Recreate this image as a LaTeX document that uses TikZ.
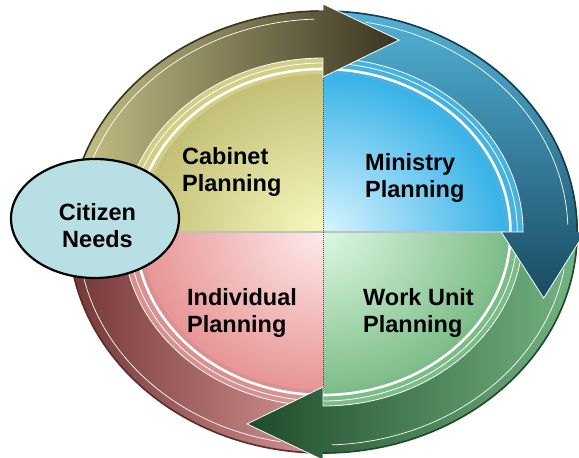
\documentclass[tikz,border=0pt]{standalone}
\usepackage{fontspec}
\setmainfont{Liberation Sans}
\usetikzlibrary{shapes.geometric}

\definecolor{yeL}{HTML}{C8C488}
\definecolor{yeM}{HTML}{807A4C}
\definecolor{yeD}{HTML}{3A3422}
\definecolor{yeBev}{HTML}{D2CE86}
\definecolor{yeIn}{HTML}{F8F8C0}
\definecolor{yeOut}{HTML}{C0BC72}
\definecolor{blL}{HTML}{52B2D6}
\definecolor{blM}{HTML}{2B7394}
\definecolor{blD}{HTML}{1A4A62}
\definecolor{blBev}{HTML}{45B2E0}
\definecolor{blIn}{HTML}{D8F4FF}
\definecolor{blOut}{HTML}{2EAEE6}
\definecolor{grL}{HTML}{74B482}
\definecolor{grD}{HTML}{1E4A2A}
\definecolor{grBev}{HTML}{7CBC88}
\definecolor{grIn}{HTML}{DDF8E2}
\definecolor{grOut}{HTML}{78BA84}
\definecolor{pkL}{HTML}{D49494}
\definecolor{pkD}{HTML}{733636}
\definecolor{pkBev}{HTML}{D89090}
\definecolor{pkIn}{HTML}{FFEAEA}
\definecolor{pkOut}{HTML}{E69090}
\definecolor{needsFill}{HTML}{B8DFE3}

\tikzset{
  band/.style={draw=white, line width=0.8pt},
  rim/.style={line width=1.6pt},
  lbl/.style={font=\fontsize{23.5}{27}\selectfont\bfseries, align=left, inner sep=0pt},
  needs/.style={ellipse, draw=black, line width=2.2pt, fill=needsFill,
    minimum width=168pt, minimum height=119pt, inner sep=0pt}
}

\begin{document}
\begin{tikzpicture}[x=1pt, y=1pt]
  \useasboundingbox (0,0) rectangle (579,-458);

  \begin{scope}[shift={(323,-232)}, xscale=1.15]
    % quadrants of the disc
    \foreach \a/\bev/\din/\dout in {0/blBev/blIn/blOut, 90/yeBev/yeIn/yeOut,
                                    180/pkBev/pkIn/pkOut, 270/grBev/grIn/grOut} {
      \fill[\bev] (0,0) -- (\a:174pt) arc[start angle=\a, delta angle=90, radius=174pt] -- cycle;
      \begin{scope}
        \clip (0,0) -- (\a:158pt) arc[start angle=\a, delta angle=90, radius=158pt] -- cycle;
        \shade[inner color=\din, outer color=\dout] (0,0) circle[radius=168pt];
      \end{scope}
    }
    \draw[white, line width=2.6pt] (0,0) circle[radius=163pt];
    \draw[white, line width=0.8pt] (0,0) circle[radius=169pt];

    % dividers
    \draw[black!25, line width=1.2pt] (180:158pt) -- (0:158pt);
    \draw[black!70, densely dotted, line width=1pt] (90:160pt) -- (-90:160pt);

    % pink band
    \path[band, left color=pkD, right color=pkL]
      (-90:222pt) arc[start angle=-90, end angle=-180, radius=222pt]
      -- (180:174pt) arc[start angle=180, end angle=270, radius=174pt] -- cycle;
    \draw[pkD!80!black, rim] (-90:221pt) arc[start angle=-90, end angle=-180, radius=221pt];
    \draw[white, line width=0.7pt] (-100:213pt) arc[start angle=-100, end angle=-180, radius=213pt];

    % green band
    \path[band, left color=grD, right color=grL]
      (0:222pt) arc[start angle=0, end angle=-90, radius=222pt]
      -- (-90:228pt) -- (-109:203pt) -- (-90:155pt)
      -- (-90:174pt) arc[start angle=-90, end angle=0, radius=174pt] -- cycle;
    \draw[grD, rim] (0:221pt) arc[start angle=0, end angle=-90, radius=221pt];
    \draw[white, line width=0.7pt] (-10:213pt) arc[start angle=-10, end angle=-88, radius=213pt];

    % blue band
    \path[band, top color=blL, middle color=blM, bottom color=blD]
      (90:222pt) arc[start angle=90, end angle=0, radius=222pt]
      -- (0:228pt) -- (-19:203pt) -- (0:155pt)
      -- (0:174pt) arc[start angle=0, end angle=90, radius=174pt] -- cycle;
    \draw[blD!80!black, rim] (90:221pt) arc[start angle=90, end angle=0, radius=221pt];
    \draw[white, line width=0.7pt] (80:213pt) arc[start angle=80, end angle=2, radius=213pt];

    % yellow band
    \path[band, left color=yeL, middle color=yeM, right color=yeD]
      (180:222pt) arc[start angle=180, end angle=90, radius=222pt]
      -- (90:228pt) -- (71:203pt) -- (90:155pt)
      -- (90:174pt) arc[start angle=90, end angle=180, radius=174pt] -- cycle;
    \draw[yeD, rim] (180:221pt) arc[start angle=180, end angle=91, radius=221pt];
    \draw[white, line width=0.7pt] (180:213pt) arc[start angle=180, end angle=92, radius=213pt];
  \end{scope}

  \node[needs] (needs) at (95,-218.5) {};
  \node[lbl, align=center] (needstext) at (97.5,-225.5) {Citizen\\Needs};

  \node[lbl, anchor=west] (cabinet)    at (182,-171.5) {Cabinet\\Planning};
  \node[lbl, anchor=west] (ministry)   at (365,-177.5) {Ministry\\Planning};
  \node[lbl, anchor=west] (individual) at (187,-312.5) {Individual\\Planning};
  \node[lbl, anchor=west] (workunit)   at (363,-312.5) {Work Unit\\Planning};
\end{tikzpicture}
\end{document}
